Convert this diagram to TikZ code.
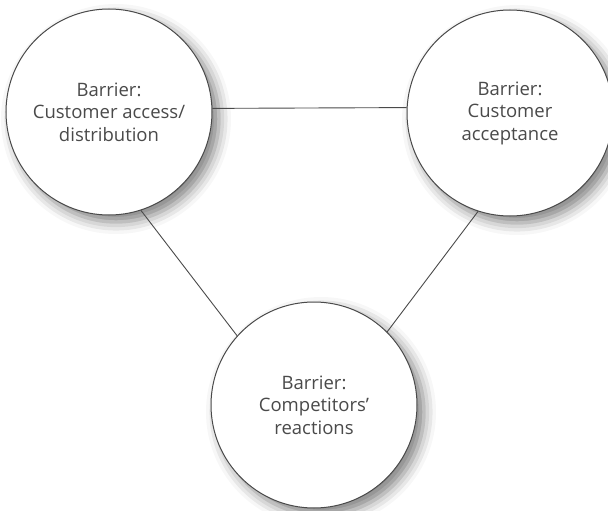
\documentclass[tikz,border=0pt]{standalone}
\usepackage{fontspec}
\setmainfont{Open Sans}
\usetikzlibrary{shadows.blur}
\definecolor{ink}{HTML}{4A4A4A}
\begin{document}
\begin{tikzpicture}[x=1pt,y=1pt,
	barrier/.style={circle,draw=ink,line width=1pt,fill=white,minimum size=206pt,inner sep=0pt,align=center,text=ink,
		font=\fontsize{18.5}{22.5}\selectfont,
		blur shadow={shadow xshift=7pt,shadow yshift=-7pt,shadow blur radius=12pt,shadow opacity=50}},
	link/.style={draw=ink,line width=.9pt}]
	\useasboundingbox (0,0) rectangle (608,-511);%khung anh
	\node[barrier] (access) at (109,-112) {Barrier:\\Customer access/\\distribution};%vong trai
	\node[barrier] (accept) at (510,-113) {Barrier:\\Customer\\acceptance};%vong phai
	\node[barrier] (rival) at (314,-405) {Barrier:\\Competitors'\\reactions};%vong duoi
	\path[link] (access.2)--(accept.177) (access.-72)--(rival.138) (accept.-108)--(rival.45);%duong noi
\end{tikzpicture}
\end{document}
